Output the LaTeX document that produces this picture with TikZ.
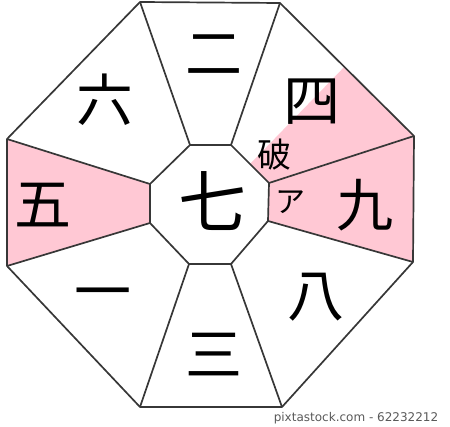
\documentclass[tikz,border=0pt]{standalone}
\usepackage{fontspec}
\newfontfamily\jp{Noto Sans CJK JP}
\newfontfamily\dvs{DejaVu Sans}
\usetikzlibrary{calc}
\definecolor{pinkfill}{RGB}{255,200,212}
\definecolor{edgecol}{RGB}{55,55,55}
\begin{document}
\begin{tikzpicture}[x=1pt,y=-1pt,
  edge/.style={draw=edgecol, line width=1.7pt, line join=round},
  pinkarea/.style={fill=pinkfill, draw=none},
  bigtxt/.style={font=\jp\fontsize{57}{57}\selectfont, inner sep=0pt},
  midtxt/.style={font=\jp\fontsize{34}{34}\selectfont, inner sep=0pt},
  smalltxt/.style={font=\jp\fontsize{30}{30}\selectfont, inner sep=0pt},
  credit/.style={font=\dvs\fontsize{12}{12}\selectfont, text=black!65, inner sep=0pt}]
\useasboundingbox (0,0) rectangle (450,427);
% outer octagon
\coordinate (oTL) at (140,2);
\coordinate (oTR) at (280,3);
\coordinate (oRU) at (414,136);
\coordinate (oRL) at (413,262);
\coordinate (oBR) at (282,407);
\coordinate (oBL) at (140,407);
\coordinate (oLL) at (7,266);
\coordinate (oLU) at (7,139);
% inner octagon
\coordinate (iTL) at (190,145);
\coordinate (iTR) at (231,145);
\coordinate (iRU) at (269,183);
\coordinate (iRL) at (268,221);
\coordinate (iBR) at (231,264);
\coordinate (iBL) at (189,264);
\coordinate (iLL) at (150,223);
\coordinate (iLU) at (150,184);
\coordinate (pA) at ($(oTR)!0.48!(oRU)$);
\coordinate (pB) at ($(iTR)!0.5!(iRU)$);
% pink areas
\fill[pinkarea] (oLU) -- (iLU) -- (iLL) -- (oLL) -- cycle;
\fill[pinkarea] (oRU) -- (iRU) -- (iRL) -- (oRL) -- cycle;
\fill[pinkarea] (pA) -- (oRU) -- (iRU) -- (pB) -- cycle;
% octagons
\draw[edge] (oTL) -- (oTR) -- (oRU) -- (oRL) -- (oBR) -- (oBL) -- (oLL) -- (oLU) -- cycle;
\draw[edge] (iTL) -- (iTR) -- (iRU) -- (iRL) -- (iBR) -- (iBL) -- (iLL) -- (iLU) -- cycle;
% spokes
\foreach \v in {TL,TR,RU,RL,BR,BL,LL,LU} { \draw[edge] (i\v) -- (o\v); }
% labels
\node[bigtxt] (n2) at (214,55) {二};
\node[bigtxt] (n6) at (105,100) {六};
\node[bigtxt] (n4) at (312,102) {四};
\node[midtxt] (npa) at (274,155) {破};
\node[smalltxt] (na) at (290,202) {ア};
\node[bigtxt] (n9) at (365,205) {九};
\node[bigtxt] (n5) at (43,205) {五};
\node[font=\jp\fontsize{68}{68}\selectfont, inner sep=0pt] (n7) at (212,201) {七};
\node[bigtxt] (n1) at (103,300) {一};
\node[bigtxt] (n3) at (214,355) {三};
\node[bigtxt] (n8) at (316,297) {八};
\node[credit] (cr) at (356,418) {pixtastock.com - 62232212};
\end{tikzpicture}
\end{document}
